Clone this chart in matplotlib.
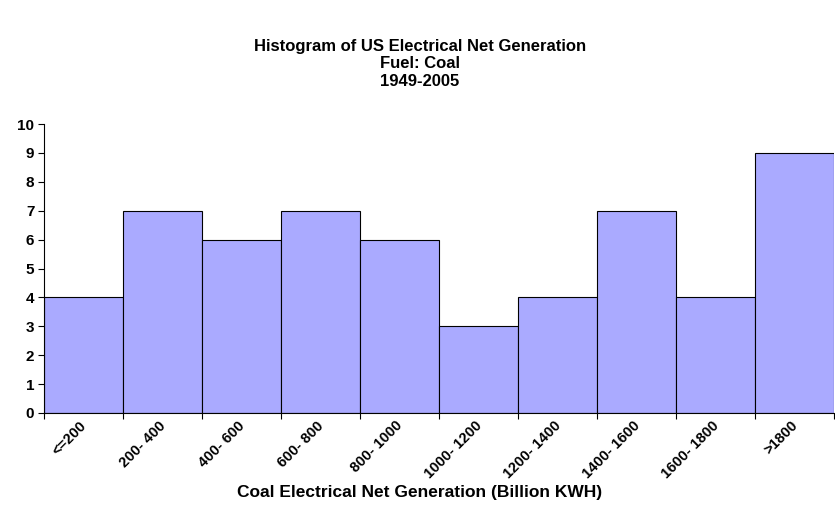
import matplotlib
matplotlib.use("Agg")
import matplotlib.pyplot as plt
import matplotlib.transforms as mtransforms
import numpy as np

plt.rcParams['font.family'] = ['Liberation Sans', 'DejaVu Sans']
plt.rcParams['font.weight'] = 'bold'

bins = ["<=200", "200- 400", "400- 600", "600- 800", "800- 1000",
        "1000- 1200", "1200- 1400", "1400- 1600", "1600- 1800", ">1800"]
counts = [4, 7, 6, 7, 6, 3, 4, 7, 4, 9]

fig = plt.figure(figsize=(8.35, 5.12), dpi=100)
ax = fig.add_axes([44 / 835, 1 - 413 / 512, 790 / 835, 289 / 512])

x = np.arange(len(bins))
ax.bar(x, counts, width=1.0, color="#AAAAFF", edgecolor="black", linewidth=0.8)

ax.set_xlim(-0.5, len(bins) - 0.5)
ax.set_ylim(0, 10)
ax.set_yticks(range(0, 11))
ax.tick_params(axis='y', labelsize=11, length=4, width=0.8, direction='out', pad=3)

# category labels at bar centres, tick marks at bar boundaries
ax.set_xticks(x)
ax.set_xticklabels(bins, rotation=45, ha='right', rotation_mode='anchor',
                   fontsize=10.5, fontweight='bold')
ax.tick_params(axis='x', which='major', length=0, pad=4)
ax.set_xticks(np.arange(-0.5, len(bins) + 0.5, 1), minor=True)
ax.tick_params(axis='x', which='minor', length=4, width=0.8, direction='out')

shift = mtransforms.ScaledTranslation(-4 / 100, 0, fig.dpi_scale_trans)
for lbl in ax.get_xticklabels():
    lbl.set_transform(lbl.get_transform() + shift)

for side in ('top', 'right'):
    ax.spines[side].set_visible(False)
for side in ('left', 'bottom'):
    ax.spines[side].set_linewidth(0.8)
    ax.spines[side].set_color('black')

for txt, ypix in [("Histogram of US Electrical Net Generation", 47),
                  ("Fuel: Coal", 64),
                  ("1949-2005", 81)]:
    fig.text(0.503, 1 - ypix / 512, txt,
             ha='center', va='center', fontsize=12, fontweight='bold')
fig.text(0.503, 1 - 492 / 512, "Coal Electrical Net Generation (Billion KWH)",
         ha='center', va='center', fontsize=12.5, fontweight='bold')

fig.savefig("out.png", dpi=100)
